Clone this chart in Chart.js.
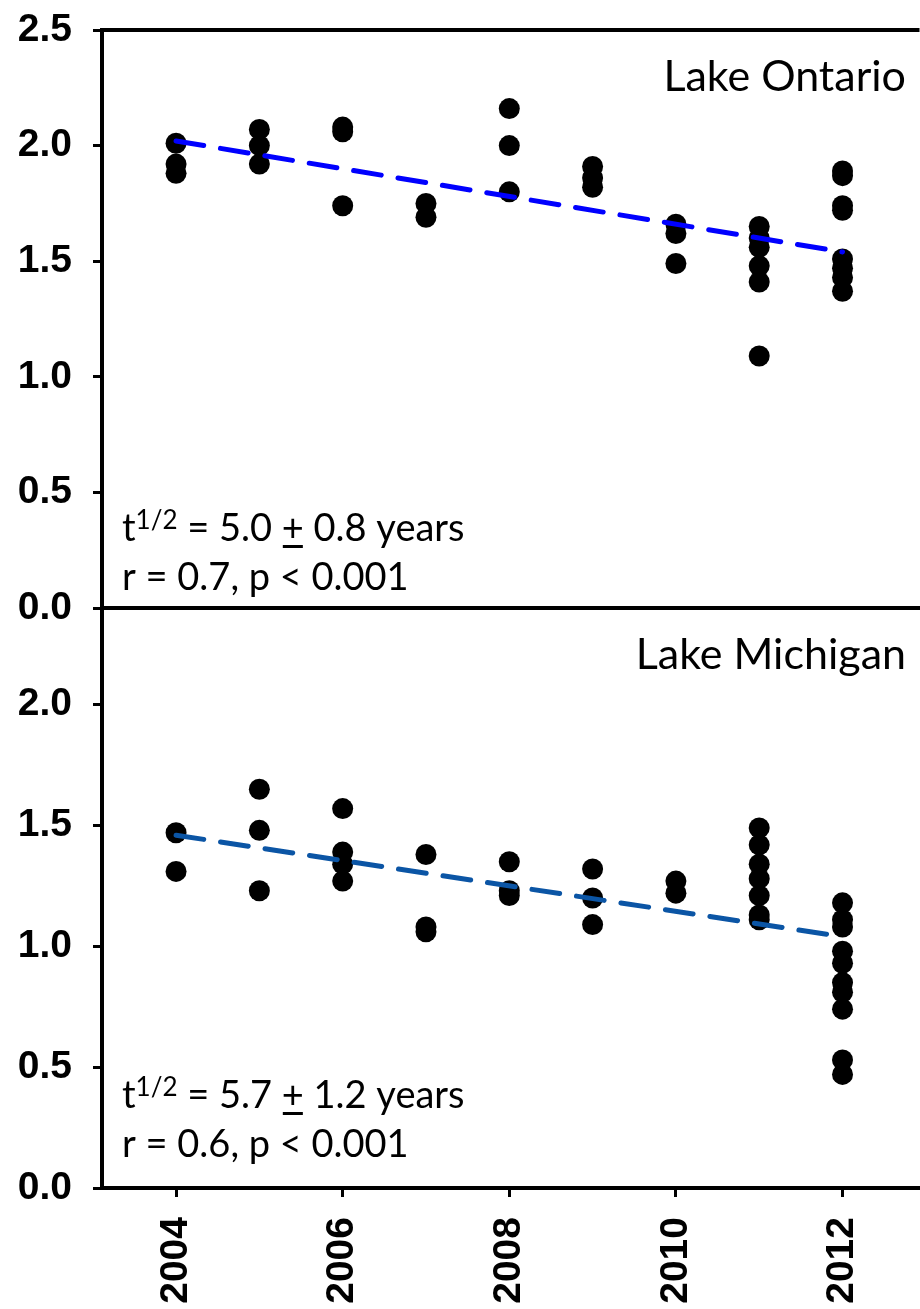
<!DOCTYPE html>
<html>
<head>
<meta charset="utf-8">
<script src="https://cdn.jsdelivr.net/npm/chart.js@4"></script>
<style>
  html, body { margin: 0; padding: 0; background: #fff; overflow: hidden; }
  #wrap { position: relative; width: 920px; height: 1309px; overflow: hidden; }
  canvas { position: absolute; left: 0; }
  #ontario { top: 0; }
  #michigan { top: 578px; }
</style>
</head>
<body>
<div id="wrap">
  <canvas id="ontario" width="930" height="640"></canvas>
  <canvas id="michigan" width="930" height="740"></canvas>
</div>
<script>
// sampling years and the values measured in each year
const years = [2004, 2005, 2006, 2007, 2008, 2009, 2010, 2011, 2012];
const ontario = [
  [2.01, 1.92, 1.88],
  [2.07, 2.00, 1.92],
  [2.08, 2.06, 1.74],
  [1.75, 1.69],
  [2.16, 2.00, 1.80],
  [1.91, 1.86, 1.82],
  [1.66, 1.62, 1.49],
  [1.65, 1.60, 1.56, 1.48, 1.41, 1.09],
  [1.89, 1.87, 1.74, 1.72, 1.51, 1.47, 1.43, 1.37]
];
const michigan = [
  [1.47, 1.31],
  [1.65, 1.48, 1.23],
  [1.57, 1.39, 1.34, 1.27],
  [1.38, 1.08, 1.06],
  [1.35, 1.23, 1.21],
  [1.32, 1.20, 1.09],
  [1.27, 1.22],
  [1.49, 1.42, 1.34, 1.28, 1.21, 1.13, 1.11],
  [1.18, 1.11, 1.08, 0.98, 0.93, 0.85, 0.81, 0.74, 0.53, 0.47]
];
// fitted trend, value at 2004 and at 2012
const ontarioTrend = [2.02, 1.54];
const michiganTrend = [1.46, 1.04];

const yearTicks = [2004, 2006, 2008, 2010, 2012];
const ontarioTicks = [0, 0.5, 1.0, 1.5, 2.0, 2.5];
const michiganTicks = [0, 0.5, 1.0, 1.5, 2.0];

const ontarioStats = { half: '5.0', err: '0.8', r: '0.7' };
const michiganStats = { half: '5.7', err: '1.2', r: '0.6' };

const X_MIN = 2003.111, X_MAX = 2012.924;
const tickFont = { family: 'Liberation Sans', size: 39, weight: 'bold' };

function points(values) {
  const out = [];
  years.forEach((yr, i) => values[i].forEach(v => out.push({ x: yr, y: v })));
  return out;
}

function yAxis(max, ticks) {
  return {
    type: 'linear',
    min: 0,
    max: max,
    // fixed axis width; end labels may spill past the plot edges
    afterFit: s => { s.width = 102; s.paddingTop = 0; s.paddingBottom = 0; },
    afterBuildTicks: s => { s.ticks = ticks.map(v => ({ value: v })); },
    ticks: { color: '#000', font: tickFont, padding: 21, callback: v => v.toFixed(1) },
    grid: { drawOnChartArea: false, tickLength: 9, tickWidth: 3, tickColor: '#000' },
    border: { color: '#000', width: 4 }
  };
}

// lake name, half-life and correlation text, plus top frame line
const panelText = {
  id: 'panelText',
  afterDatasetsDraw(chart, args, opts) {
    const { ctx, chartArea: a } = chart;
    ctx.save();
    ctx.fillStyle = '#000';
    ctx.strokeStyle = '#000';

    if (opts.frame) {
      ctx.lineWidth = 4;
      ctx.beginPath();
      ctx.moveTo(a.left - 2, a.top);
      ctx.lineTo(a.right, a.top);
      ctx.stroke();
    }

    ctx.textBaseline = 'alphabetic';
    ctx.font = '43px Lato';
    ctx.textAlign = 'right';
    ctx.fillText(opts.lake, a.left + 804, a.top + 61);

    ctx.textAlign = 'left';
    const x0 = a.left + 20;
    const y = a.bottom - opts.lift;
    let x = x0;
    ctx.font = '38px Lato';
    ctx.fillText('t', x, y);
    x += ctx.measureText('t').width;
    ctx.font = '26px Lato';
    ctx.fillText('1/2', x, y - 12);
    x += ctx.measureText('1/2').width;
    ctx.font = '38px Lato';
    const eq = ' = ' + opts.stats.half + ' ';
    ctx.fillText(eq, x, y);
    x += ctx.measureText(eq).width;
    const pw = ctx.measureText('+').width;
    ctx.fillText('+', x, y);
    ctx.fillRect(x + 1, y + 4, pw - 2, 3);
    x += pw;
    ctx.fillText(' ' + opts.stats.err + ' years', x, y);
    ctx.fillText('r = ' + opts.stats.r + ', p < 0.001', x0, y + 49);
    ctx.restore();
  }
};

function datasets(values, trend, color) {
  return [
    {
      data: [{ x: 2004, y: trend[0] }, { x: 2012, y: trend[1] }],
      showLine: true,
      borderColor: color,
      borderWidth: 5,
      borderDash: [28, 17],
      borderCapStyle: 'round',
      pointRadius: 0,
      order: 0
    },
    {
      data: points(values),
      pointRadius: 10.5,
      pointBackgroundColor: '#000',
      pointBorderWidth: 0,
      order: 1
    }
  ];
}

new Chart(document.getElementById('ontario'), {
  type: 'scatter',
  data: { datasets: datasets(ontario, ontarioTrend, '#0000ff') },
  plugins: [panelText],
  options: {
    responsive: false,
    animation: false,
    layout: { padding: { top: 30, left: 0, right: 0, bottom: 0 } },
    plugins: {
      legend: { display: false },
      tooltip: { enabled: false },
      panelText: { frame: true, lake: 'Lake Ontario', stats: ontarioStats, lift: 67 }
    },
    scales: {
      x: {
        type: 'linear',
        min: X_MIN,
        max: X_MAX,
        afterFit: s => { s.height = 32; },
        ticks: { display: false },
        grid: { drawOnChartArea: false, drawTicks: false },
        border: { color: '#000', width: 4 }
      },
      y: yAxis(2.5, ontarioTicks)
    }
  }
});

new Chart(document.getElementById('michigan'), {
  type: 'scatter',
  data: { datasets: datasets(michigan, michiganTrend, '#0b55a5') },
  plugins: [panelText],
  options: {
    responsive: false,
    animation: false,
    layout: { padding: { top: 30, left: 0, right: 0, bottom: 0 } },
    plugins: {
      legend: { display: false },
      tooltip: { enabled: false },
      panelText: { frame: false, lake: 'Lake Michigan', stats: michiganStats, lift: 80 }
    },
    scales: {
      x: {
        type: 'linear',
        min: X_MIN,
        max: X_MAX,
        afterFit: s => { s.height = 130; },
        afterBuildTicks: s => { s.ticks = yearTicks.map(v => ({ value: v })); },
        ticks: {
          color: '#000',
          font: tickFont,
          padding: 20,
          minRotation: 90,
          maxRotation: 90,
          autoSkip: false,
          callback: v => String(v)
        },
        grid: { drawOnChartArea: false, tickLength: 9, tickWidth: 3, tickColor: '#000' },
        border: { color: '#000', width: 4 }
      },
      y: yAxis(2.4, michiganTicks)
    }
  }
});
</script>
</body>
</html>
